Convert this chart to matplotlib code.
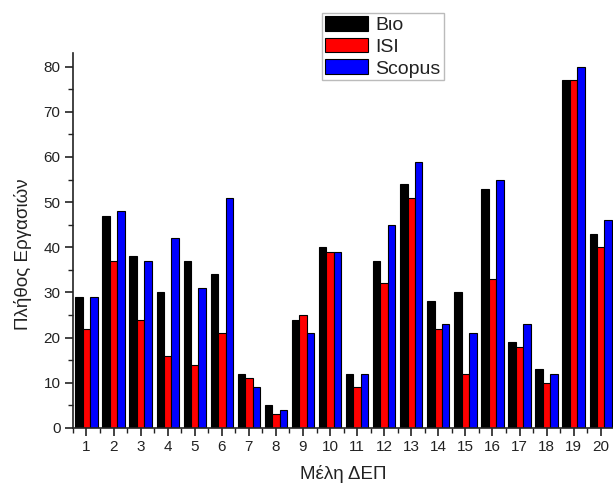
import numpy as np
import matplotlib
matplotlib.use("Agg")
import matplotlib.pyplot as plt
from matplotlib.ticker import MultipleLocator

plt.rcParams['font.family'] = ['Liberation Sans', 'DejaVu Sans']

members = list(range(1, 21))
bio = [29, 47, 38, 30, 37, 34, 12, 5, 24, 40, 12, 37, 54, 28, 30, 53, 19, 13, 77, 43]
isi = [22, 37, 24, 16, 14, 21, 11, 3, 25, 39, 9, 32, 51, 22, 12, 33, 18, 10, 77, 40]
scopus = [29, 48, 37, 42, 31, 51, 9, 4, 21, 39, 12, 45, 59, 23, 21, 55, 23, 12, 80, 46]

series = [("Βιο", bio, "#000000"), ("ISI", isi, "#ff0000"), ("Scopus", scopus, "#0000ff")]

fig = plt.figure(figsize=(6.13, 4.83), dpi=100)
ax = fig.add_axes([0.119, 0.114, 0.883, 0.776])

x = np.array(members, dtype=float)
w = 0.275
for i, (name, vals, col) in enumerate(series):
    ax.bar(x + (i - 1) * w, vals, width=w, color=col, edgecolor="black",
           linewidth=0.8, label=name)

ax.set_xlim(0.5, 20.5)
ax.set_ylim(0, 83)
ax.set_xticks(members)
ax.set_xticklabels([str(m) for m in members])
ax.xaxis.set_minor_locator(MultipleLocator(0.5))
ax.yaxis.set_major_locator(MultipleLocator(10))
ax.yaxis.set_minor_locator(MultipleLocator(5))
ax.tick_params(axis="both", which="major", direction="out", length=6, width=1.2,
               labelsize=11, colors="#222222", pad=3)
ax.tick_params(axis="both", which="minor", direction="out", length=3.5, width=1.0,
               colors="#222222")
for s in ("top", "right"):
    ax.spines[s].set_visible(False)
for s in ("left", "bottom"):
    ax.spines[s].set_linewidth(1.2)
    ax.spines[s].set_color("#222222")

ax.set_xlabel("Μέλη ΔΕΠ", fontsize=13.5, color="#222222", va="center")
ax.set_ylabel("Πλήθος Εργασιών", fontsize=13.5, color="#222222", va="center")
ax.xaxis.set_label_coords(0.5, -0.123)
ax.yaxis.set_label_coords(-0.0925, 0.464)

leg = fig.legend(loc="upper left", bbox_to_anchor=(322 / 613, 1 - 13 / 483),
                 fontsize=14, frameon=True, fancybox=False, handlelength=2.2,
                 handleheight=0.8, labelspacing=0.18, borderpad=0.15,
                 handletextpad=0.4, borderaxespad=0)
leg.get_frame().set_edgecolor("#aaaaaa")
leg.get_frame().set_linewidth(1.0)
for t in leg.get_texts():
    t.set_color("#222222")

fig.savefig("out.png", dpi=100)
